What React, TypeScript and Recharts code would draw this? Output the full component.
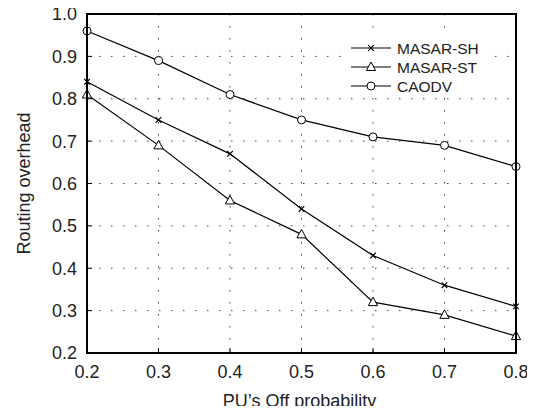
import React from 'react';
import { LineChart, Line, XAxis, YAxis, CartesianGrid, Legend, Label } from 'recharts';

const offProbability = [0.2, 0.3, 0.4, 0.5, 0.6, 0.7, 0.8];
const masarSH = [0.84, 0.75, 0.67, 0.54, 0.43, 0.36, 0.31];
const masarST = [0.81, 0.69, 0.56, 0.48, 0.32, 0.29, 0.24];
const caodv = [0.96, 0.89, 0.81, 0.75, 0.71, 0.69, 0.64];
const xTicks = [0.2, 0.3, 0.4, 0.5, 0.6, 0.7, 0.8];
const yTicks = [0.2, 0.3, 0.4, 0.5, 0.6, 0.7, 0.8, 0.9, 1.0];
const seriesNames = ['MASAR-SH', 'MASAR-ST', 'CAODV'];
const xLabel = 'PU\u2019s Off probability';
const yLabel = 'Routing overhead';

const data = offProbability.map((p, i) => ({
  p,
  sh: masarSH[i],
  st: masarST[i],
  caodv: caodv[i],
}));

const FONT = '"Liberation Sans", Arial, Helvetica, sans-serif';

const Cross = ({ cx, cy }: any) => (
  <path
    d={`M${cx - 2.8},${cy - 2.8}L${cx + 2.8},${cy + 2.8}M${cx - 2.8},${cy + 2.8}L${cx + 2.8},${cy - 2.8}`}
    stroke="#000"
    strokeWidth={1.2}
    fill="none"
  />
);
const Tri = ({ cx, cy }: any) => (
  <path
    d={`M${cx},${cy - 5}L${cx + 4.6},${cy + 3.5}L${cx - 4.6},${cy + 3.5}Z`}
    stroke="#000"
    strokeWidth={1}
    fill="#fff"
  />
);
const Circ = ({ cx, cy }: any) => (
  <circle cx={cx} cy={cy} r={4} stroke="#000" strokeWidth={1} fill="#fff" />
);

const markers = [Cross, Tri, Circ];

const LegendBox = () => (
  <svg width={148} height={58} style={{ display: 'block' }}>
    <rect x={0} y={0} width={148} height={58} fill="#fff" />
    {seriesNames.map((name, i) => {
      const M = markers[i];
      const y = 10 + i * 19;
      return (
        <g key={name}>
          <line x1={4} x2={44} y1={y} y2={y} stroke="#000" strokeWidth={1.2} />
          <M cx={24} cy={y} />
          <text x={50} y={y} dominantBaseline="central" fontSize={15.5} fontFamily={FONT} fill="#222">
            {name}
          </text>
        </g>
      );
    })}
  </svg>
);

const YLabel = ({ viewBox }: any) => {
  const cx = viewBox.x + 24;
  const cy = viewBox.y + viewBox.height / 2;
  return (
    <text
      x={cx}
      y={cy}
      transform={`rotate(-90, ${cx}, ${cy})`}
      textAnchor="middle"
      dominantBaseline="central"
      fontSize={18}
      fontFamily={FONT}
      fill="#222"
    >
      {yLabel}
    </text>
  );
};

const XLabel = ({ viewBox }: any) => {
  const cx = viewBox.x + viewBox.width / 2;
  const y = viewBox.y + 54;
  return (
    <text x={cx - 2} y={y} textAnchor="middle" fontSize={18} fontFamily={FONT} fill="#222">
      {xLabel}
    </text>
  );
};

const tickStyle = { fontSize: 18, fontFamily: FONT, fill: '#222' };
const axisStroke = { stroke: '#000', strokeWidth: 1.6 };
const tickStroke = { stroke: '#000', strokeWidth: 1 };

const CHART_W = 535;
const CHART_H = 414;
const MARGIN = { top: 14, right: 19, bottom: 0, left: 0 };
const LEFT_AXIS_W = 87;
const BOTTOM_AXIS_H = 61;

export default function App() {
  const plotLeft = MARGIN.left + LEFT_AXIS_W;
  const plotTop = MARGIN.top;
  const plotW = CHART_W - MARGIN.right - plotLeft;
  const plotH = CHART_H - MARGIN.bottom - BOTTOM_AXIS_H - plotTop;
  return (
    <div style={{ position: 'relative', width: CHART_W, height: CHART_H, margin: -8, background: '#fff' }}>
      <LineChart width={CHART_W} height={CHART_H} data={data} margin={MARGIN}>
        <CartesianGrid stroke="#444" strokeWidth={1} strokeDasharray="1.5 10.5" />
        <XAxis
          dataKey="p"
          type="number"
          domain={[0.2, 0.8]}
          ticks={xTicks}
          tickFormatter={(v: number) => v.toFixed(1)}
          height={BOTTOM_AXIS_H}
          tickSize={-5}
          tickMargin={17}
          tick={tickStyle}
          axisLine={axisStroke}
          tickLine={tickStroke}
        >
          <Label content={<XLabel />} />
        </XAxis>
        <YAxis
          type="number"
          domain={[0.2, 1.0]}
          ticks={yTicks}
          tickFormatter={(v: number) => v.toFixed(1)}
          width={LEFT_AXIS_W}
          tickSize={-5}
          tickMargin={15}
          tick={tickStyle}
          axisLine={axisStroke}
          tickLine={tickStroke}
        >
          <Label content={<YLabel />} />
        </YAxis>
        <Legend
          layout="horizontal"
          verticalAlign="middle"
          align="center"
          content={<LegendBox />}
          wrapperStyle={{ position: 'absolute', left: 347, top: 38, width: 148, height: 58 }}
        />
        <Line
          dataKey="caodv"
          name={seriesNames[2]}
          stroke="#000"
          strokeWidth={1.2}
          isAnimationActive={false}
          dot={(props: any) => <Circ key={`c${props.index}`} cx={props.cx} cy={props.cy} />}
        />
        <Line
          dataKey="sh"
          name={seriesNames[0]}
          stroke="#000"
          strokeWidth={1.2}
          isAnimationActive={false}
          dot={(props: any) => <Cross key={`x${props.index}`} cx={props.cx} cy={props.cy} />}
        />
        <Line
          dataKey="st"
          name={seriesNames[1]}
          stroke="#000"
          strokeWidth={1.2}
          isAnimationActive={false}
          dot={(props: any) => <Tri key={`t${props.index}`} cx={props.cx} cy={props.cy} />}
        />
      </LineChart>
      <div
        style={{
          position: 'absolute',
          left: plotLeft - 1,
          top: plotTop - 1,
          width: plotW + 2,
          height: plotH + 2,
          border: '2px solid #000',
          boxSizing: 'border-box',
          pointerEvents: 'none',
          zIndex: 10,
        }}
      />
    </div>
  );
}
